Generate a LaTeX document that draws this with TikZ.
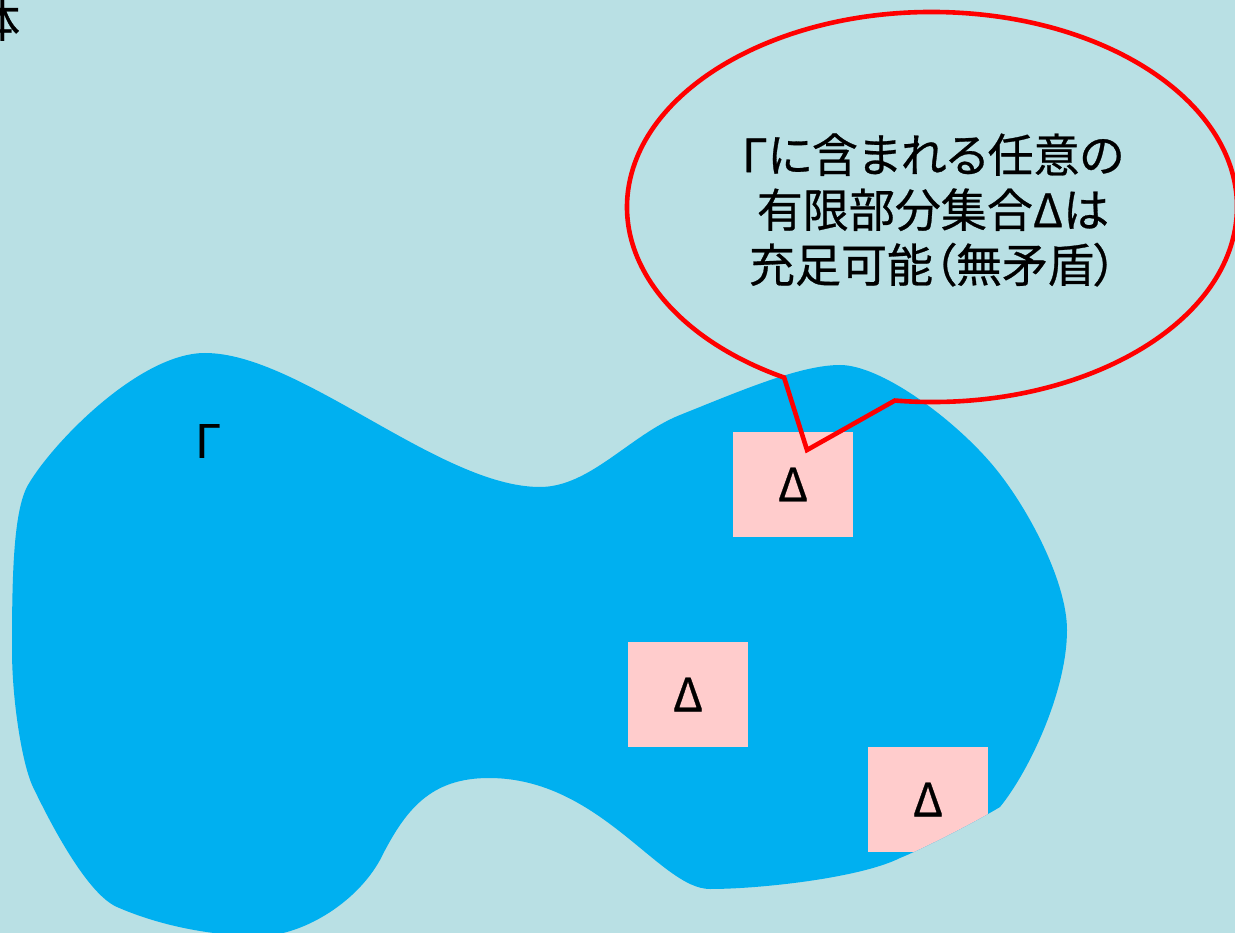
\documentclass[tikz,border=0pt]{standalone}
\usepackage{fontspec}
\newfontfamily\jp[RawFeature={+palt;embolden=0.6}]{Noto Sans CJK JP}
\definecolor{bgc}{RGB}{185,224,228}
\definecolor{blobc}{RGB}{0,176,240}
\definecolor{pinkc}{RGB}{255,204,204}
\definecolor{redc}{RGB}{255,0,0}
\tikzset{
  jptext/.style={font=\jp\fontsize{46}{55}\selectfont, text=black, inner sep=0pt},
  dbox/.style={jptext, fill=pinkc, minimum width=120pt, minimum height=105pt},
  callout/.style={draw=redc, line width=4.6pt, line join=miter}
}
\begin{document}
\begin{tikzpicture}[x=1pt,y=1pt]
\useasboundingbox (0,0) rectangle (1235,-933);
\fill[bgc] (0,0) rectangle (1235,-933);
% partial character at top-left
\node[jptext] (tai) at (-3,-20) {体};
\begin{scope}
  \clip (205,-353)
    .. controls (300,-353) and (440,-487) .. (540,-487)
    .. controls (590,-487) and (630,-435) .. (680,-415)
    .. controls (740,-391) and (800,-365) .. (840,-365)
    .. controls (880,-365) and (950,-416) .. (990,-462)
    .. controls (1025,-502) and (1067,-580) .. (1067,-630)
    .. controls (1067,-690) and (1030,-770) .. (1000,-807)
    .. controls (970,-825) and (920,-850) .. (900,-858)
    .. controls (860,-878) and (760,-889) .. (710,-889)
    .. controls (660,-889) and (600,-778) .. (489,-778)
    .. controls (430,-778) and (405,-810) .. (380,-860)
    .. controls (355,-905) and (300,-936) .. (260,-936)
    .. controls (210,-936) and (158,-925) .. (117,-907)
    .. controls (85,-893) and (46,-814) .. (33,-787)
    .. controls (22,-764) and (12,-700) .. (12,-650)
    .. controls (12,-580) and (13,-511) .. (28,-485)
    .. controls (53,-442) and (140,-353) .. (205,-353) -- cycle;
  \fill[blobc] (0,0) rectangle (1235,-940);
  \node[dbox] (d1) at (793,-484.5) {Δ};
  \node[dbox] (d2) at (688,-694.5) {Δ};
  \node[dbox] (d3) at (928,-799.5) {Δ};
\end{scope}
\node[jptext] (gamma) at (208,-441) {Γ};
\node[jptext, align=center] (note) at (933,-210) {Γに含まれる任意の\\有限部分集合Δは\\充足可能（無矛盾）};
\coordinate (tip) at (807,-450);
\draw[callout] (932,-207) ++(263:305 and 195)
  arc[start angle=263, end angle=601, x radius=305, y radius=195]
  -- (tip) -- cycle;
\end{tikzpicture}
\end{document}
